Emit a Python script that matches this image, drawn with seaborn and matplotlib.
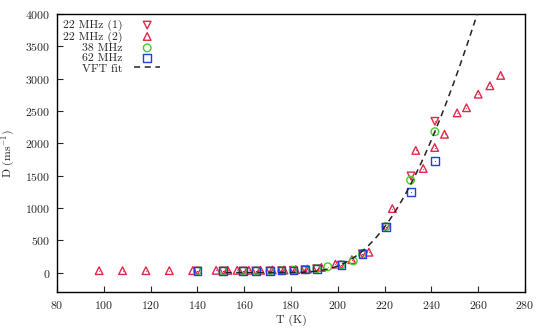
import numpy as np
import pandas as pd
import seaborn as sns
import matplotlib.pyplot as plt

# 22 MHz (1) - inverted triangles
t_22a = [140, 151, 159.5, 165, 171, 176, 181, 186, 191, 201.5, 210.5, 220.5, 231.3, 241.5]
d_22a = [25, 25, 25, 25, 25, 30, 35, 45, 60, 115, 290, 700, 1495, 2340]

# 22 MHz (2) - triangles
t_22b = [98, 108, 118, 128, 138, 148, 153, 157, 162, 167, 172, 177, 182, 187, 193, 199,
         206, 213.3, 223.3, 233.3, 236.5, 241.4, 245.6, 251, 255, 260, 265, 269.6]
d_22b = [30, 30, 30, 30, 30, 35, 35, 35, 35, 35, 40, 40, 45, 55, 80, 130,
         200, 315, 990, 1890, 1610, 1935, 2140, 2470, 2550, 2760, 2890, 3050]

# 38 MHz - circles
t_38 = [140, 151, 159.5, 165, 171, 176, 181, 186, 191, 195.7, 201.5, 206.6, 210.5, 220.5, 231.1, 241.5]
d_38 = [25, 25, 25, 25, 25, 30, 35, 45, 60, 90, 120, 180, 280, 710, 1430, 2180]

# 62 MHz - squares
t_62 = [140, 151, 159.5, 165, 171, 176, 181, 186, 191, 201.5, 210.5, 220.6, 231.3, 241.5]
d_62 = [25, 25, 25, 25, 25, 30, 35, 45, 60, 115, 290, 705, 1245, 1730]

# VFT fit parameters  D = A exp(-B / (T - T0))
vft_lnA = 11.36
vft_B = 336.0
vft_T0 = 150.0

sns.set_style("white")
plt.rcParams["font.family"] = ["cmr10"]
plt.rcParams["mathtext.fontset"] = "cm"
plt.rcParams["axes.formatter.use_mathtext"] = True
plt.rcParams["axes.unicode_minus"] = False

red = "#e0284a"
green = "#4ccc2a"
blue = "#1f3fd6"

fig = plt.figure(figsize=(5.45, 3.28), dpi=100)
ax = fig.add_axes([0.1046, 0.1098, 0.8587, 0.8475])

ms = 30
series = [
    (t_22b, d_22b, "^", red, "22 MHz (2)", 3),
    (t_22a, d_22a, "v", red, "22 MHz (1)", 3),
    (t_38, d_38, "o", green, "38 MHz", 4),
    (t_62, d_62, "s", blue, "62 MHz", 5),
]
for t, d, mk, col, lab, z in series:
    sns.scatterplot(x=t, y=d, marker=mk, s=ms, facecolor="none", edgecolor=col,
                    linewidth=1.0, ax=ax, label=lab, zorder=z)
    # small centre dot
    ax.scatter(t, d, marker=".", s=1.5, color=col, zorder=z, linewidths=0)

t_fit = np.linspace(152, 265, 300)
d_fit = np.exp(vft_lnA - vft_B / (t_fit - vft_T0))
fit = pd.DataFrame({"T": t_fit, "D": d_fit})
sns.lineplot(data=fit, x="T", y="D", color="#222222", linestyle=(0, (4, 3)),
             linewidth=1.1, ax=ax, label="VFT fit", zorder=6)

ax.set_xlim(80, 280)
ax.set_ylim(-300, 4000)
ax.set_xticks(range(80, 281, 20))
ax.set_yticks(range(0, 4001, 500))
ax.tick_params(direction="in", length=4, width=0.8, labelsize=8.5,
               top=False, right=False, bottom=True, left=True, pad=5)
for sp in ax.spines.values():
    sp.set_color("black")
    sp.set_linewidth(1.0)

ax.set_xlabel("T (K)", fontsize=8.5, labelpad=3)
ax.set_ylabel("D (ms$^{-1}$)", fontsize=8.5, labelpad=6)

h, l = ax.get_legend_handles_labels()
order = ["22 MHz (1)", "22 MHz (2)", "38 MHz", "62 MHz", "VFT fit"]
hd = dict(zip(l, h))
ax.legend([hd[k] for k in order], order, loc="upper left", frameon=False,
          markerfirst=False, fontsize=8.5, labelspacing=0.0, handlelength=2.2,
          handletextpad=1.0, borderaxespad=0.3, borderpad=0.2)

fig.savefig("out.png", dpi=100)
